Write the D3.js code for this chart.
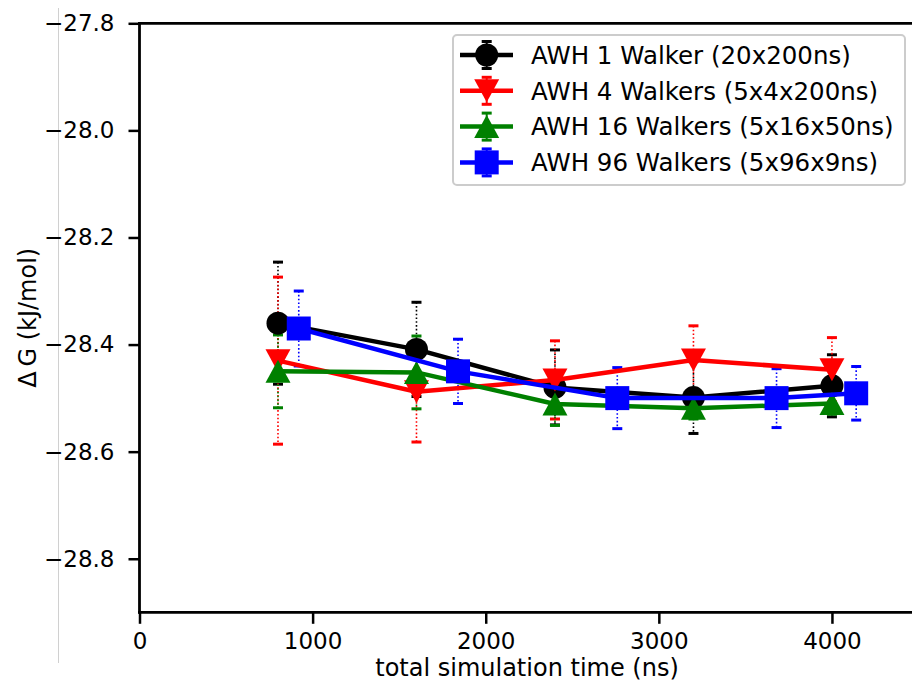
<!DOCTYPE html>
<html><head><meta charset="utf-8">
<script src="https://cdn.jsdelivr.net/npm/d3@7"></script>
<style>
body{margin:0;background:#fff;}
text{font-family:"DejaVu Sans",sans-serif;fill:#000;}
</style></head>
<body><svg id="c" width="912" height="682"></svg>
<script>
// ---- data ----
const seriesNames = ["AWH 1 Walker (20x200ns)","AWH 4 Walkers (5x4x200ns)","AWH 16 Walkers (5x16x50ns)","AWH 96 Walkers (5x96x9ns)"];
const seriesColors = ["#000000","#ff0000","#008000","#0000ff"];
const seriesMarkers = ["circle","triDown","triUp","square"];
const xBlack = [800,1600,2400,3200,4000];
const yBlack = [-28.36,-28.409,-28.48,-28.499,-28.477];
const eBlack = [0.114,0.088,0.07,0.067,0.058];
const xRed = [800,1600,2400,3200,4000];
const yRed = [-28.43,-28.488,-28.466,-28.429,-28.447];
const eRed = [0.156,0.094,0.073,0.064,0.06];
const xGreen = [800,1600,2400,3200,4000];
const yGreen = [-28.45,-28.452,-28.511,-28.519,-28.51];
const eGreen = [0.068,0.068,0.04,0.02,0.02];
const xBlue = [920,1840,2760,3680,4140];
const yBlue = [-28.37,-28.45,-28.50,-28.50,-28.491];
const eBlue = [0.07,0.06,0.057,0.055,0.05];
const xTicks = [0,1000,2000,3000,4000];
const yTicks = [-27.8,-28.0,-28.2,-28.4,-28.6,-28.8];
const xLabel = "total simulation time (ns)";
const yLabel = "\u0394\u2009G (kJ/mol)";

const series = [
  {x:xBlack,y:yBlack,e:eBlack},
  {x:xRed,y:yRed,e:eRed},
  {x:xGreen,y:yGreen,e:eGreen},
  {x:xBlue,y:yBlue,e:eBlue}
].map((s,i)=>({...s,name:seriesNames[i],color:seriesColors[i],marker:seriesMarkers[i]}));

const svg = d3.select("#c");
const X = d3.scaleLinear().domain([0,4500]).range([139.5,918.5]);
const Y = d3.scaleLinear().domain([-28.9,-27.8]).range([612.3,23.3]);

// faint border line of the original figure
svg.append("line").attr("x1",58.5).attr("x2",58.5).attr("y1",8).attr("y2",663)
  .attr("stroke","#d0d0d0").attr("stroke-width",1);

const fmt = v => d3.format(".1f")(v).replace("-","\u2212");

// y axis
const ya = svg.append("g").attr("transform","translate(139.5,0)")
  .call(d3.axisLeft(Y).tickValues(yTicks).tickSize(11).tickPadding(14).tickFormat(fmt));
ya.select(".domain").remove();
ya.selectAll(".tick line").attr("stroke","#000").attr("stroke-width",2.5);
ya.selectAll(".tick text").style("font-size","23px").attr("font-family","DejaVu Sans").attr("fill","#000");
// x axis
const xa = svg.append("g").attr("transform","translate(0,612.3)")
  .call(d3.axisBottom(X).tickValues(xTicks).tickSize(11.5).tickPadding(9).tickFormat(d3.format("d")));
xa.select(".domain").remove();
xa.selectAll(".tick line").attr("stroke","#000").attr("stroke-width",2.5);
xa.selectAll(".tick text").style("font-size","23px").attr("font-family","DejaVu Sans").attr("fill","#000");

// spines
svg.append("line").attr("x1",139.5).attr("x2",139.5).attr("y1",Y(-27.8)).attr("y2",Y(-28.9)+1.2)
  .attr("stroke","#000").attr("stroke-width",2.8);
svg.append("line").attr("x1",138).attr("x2",918.5).attr("y1",Y(-28.9)).attr("y2",Y(-28.9))
  .attr("stroke","#000").attr("stroke-width",2.8);
svg.append("line").attr("x1",138).attr("x2",918.5).attr("y1",Y(-27.8)).attr("y2",Y(-27.8))
  .attr("stroke","#000").attr("stroke-width",2.8);

// labels
svg.append("text").attr("x",527).attr("y",675.5).attr("text-anchor","middle")
  .style("font-size","24px").text(xLabel);
svg.append("text").attr("transform",`translate(35.5,${(Y(-27.8)+Y(-28.9))/2}) rotate(-90)`)
  .attr("text-anchor","middle").style("font-size","24px").text(yLabel);

// marker drawing
function marker(g,type,cx,cy,color,size){
  const h=size;
  if(type==="circle") g.append("circle").attr("cx",cx).attr("cy",cy).attr("r",h).attr("fill",color);
  else if(type==="square") g.append("rect").attr("x",cx-h).attr("y",cy-h).attr("width",2*h).attr("height",2*h).attr("fill",color);
  else if(type==="triUp") g.append("path").attr("d",`M${cx},${cy-h}L${cx+h+1},${cy+h}L${cx-h-1},${cy+h}Z`).attr("fill",color);
  else if(type==="triDown") g.append("path").attr("d",`M${cx},${cy+h}L${cx+h+1},${cy-h}L${cx-h-1},${cy-h}Z`).attr("fill",color);
}
const msize = {circle:11.5,square:12,triUp:11.5,triDown:11.5};

// error bars (below lines)
const eg = svg.append("g");
series.forEach(s=>{
  s.x.forEach((xv,i)=>{
    const cx=X(xv), y1=Y(s.y[i]+s.e[i]), y2=Y(s.y[i]-s.e[i]);
    eg.append("line").attr("x1",cx).attr("x2",cx).attr("y1",y1).attr("y2",y2)
      .attr("stroke",s.color).attr("stroke-width",1.6).attr("stroke-dasharray","1.6,2.2");
    [y1,y2].forEach(yy=>eg.append("line").attr("x1",cx-5).attr("x2",cx+5).attr("y1",yy).attr("y2",yy)
      .attr("stroke",s.color).attr("stroke-width",3));
  });
});
// lines + markers
const line = d3.line().x(d=>X(d[0])).y(d=>Y(d[1]));
series.forEach(s=>{
  const g=svg.append("g");
  const pts=s.x.map((xv,i)=>[xv,s.y[i]]);
  g.append("path").attr("d",line(pts)).attr("fill","none").attr("stroke",s.color)
    .attr("stroke-width",4.5).attr("stroke-linejoin","round");
  pts.forEach(p=>marker(g,s.marker,X(p[0]),Y(p[1]),s.color,msize[s.marker]));
});

// legend
const lg = svg.append("g");
lg.append("rect").attr("x",453).attr("y",35).attr("width",452).attr("height",150).attr("rx",4)
  .attr("fill","#fff").attr("fill-opacity",0.85).attr("stroke","#cccccc").attr("stroke-width",2);
series.forEach((s,i)=>{
  const yy = 55 + i*35.8;
  lg.append("line").attr("x1",460).attr("x2",513).attr("y1",yy).attr("y2",yy).attr("stroke",s.color).attr("stroke-width",4.5);
  lg.append("line").attr("x1",486.7).attr("x2",486.7).attr("y1",yy-13.5).attr("y2",yy+13.5).attr("stroke",s.color).attr("stroke-width",2);
  [yy-13.5,yy+13.5].forEach(cy=>lg.append("line").attr("x1",481.7).attr("x2",491.7).attr("y1",cy).attr("y2",cy).attr("stroke",s.color).attr("stroke-width",3));
  marker(lg,s.marker,486.7,yy,s.color,msize[s.marker]);
  lg.append("text").attr("x",531).attr("y",yy).attr("dy","0.36em").style("font-size","24.5px").text(s.name);
});
</script></body></html>
